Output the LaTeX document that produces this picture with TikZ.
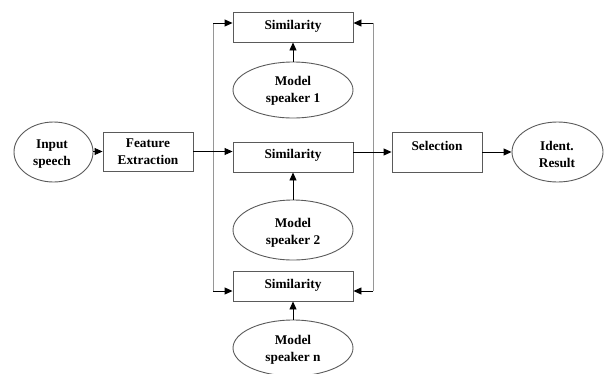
\documentclass[tikz,border=0pt]{standalone}
\usepackage{fontspec}
\setmainfont{Liberation Serif}
\usetikzlibrary{shapes.geometric,arrows.meta}
\definecolor{boxline}{RGB}{90,90,90}
\definecolor{busline}{RGB}{150,150,150}
\tikzset{
  box/.style={draw=boxline,line width=0.9pt,fill=white,rectangle,inner sep=0pt,align=center},
  oval/.style={draw=boxline,line width=0.9pt,fill=white,ellipse,inner sep=0pt,align=center},
  txt/.style={font=\fontsize{13.3}{17}\selectfont\bfseries,align=center,inner sep=0pt},
  arr/.style={line width=0.9pt,-{Triangle[length=8pt,width=7pt]}},
  bus/.style={draw=busline,line width=0.9pt}
}
\begin{document}
\begin{tikzpicture}[x=1pt,y=-1pt]
\useasboundingbox (0,0) rectangle (604,373);
% nodes
\node[oval,minimum width=79pt,minimum height=60pt] (in) at (53.5,152) {};
\node[txt] (intxt) at (52,154) {Input\\speech};
\node[box,minimum width=90pt,minimum height=39pt] (fe) at (148,151.5) {};
\node[txt] (fetxt) at (148,151.5) {Feature\\Extraction};
\node[box,minimum width=120pt,minimum height=30pt] (s1) at (293,27) {};
\node[txt] (s1t) at (293,26) {Similarity};
\node[oval,minimum width=120pt,minimum height=56pt] (m1) at (293,90) {};
\node[txt] (m1t) at (293,91) {Model\\speaker 1};
\node[box,minimum width=120pt,minimum height=30pt] (s2) at (293,157) {};
\node[txt] (s2t) at (293,155) {Similarity};
\node[oval,minimum width=120pt,minimum height=60pt] (m2) at (293,230) {};
\node[txt] (m2t) at (293,233) {Model\\speaker 2};
\node[box,minimum width=120pt,minimum height=30pt] (s3) at (293,286) {};
\node[txt] (s3t) at (293,285) {Similarity};
\node[oval,minimum width=120pt,minimum height=56pt] (mn) at (293,348) {};
\node[txt] (mnt) at (293,350) {Model\\speaker n};
\node[box,minimum width=90pt,minimum height=40pt] (sel) at (437,152) {};
\node[txt] (selt) at (437,146) {Selection};
\node[oval,minimum width=91pt,minimum height=60pt] (id) at (557.5,152) {};
\node[txt] (idt) at (557,154) {Ident.\\Result};
% bus coordinates
\coordinate (lt) at (213,23);
\coordinate (lb) at (213,291);
\coordinate (rt) at (373,23);
\coordinate (rb) at (373,291);
% buses
\draw[bus] (lt) -- (lb);
\draw[bus] (rt) -- (rb);
% arrows
\draw[arr] (in.east |- fe.east) -- (fe.west);
\draw[arr] (fe.east) -- (fe.east -| s2.west);
\draw[arr] (lt) -- (lt -| s1.west);
\draw[arr] (rt) -- (rt -| s1.east);
\draw[arr] (lb) -- (lb -| s3.west);
\draw[arr] (rb) -- (rb -| s3.east);
\draw[arr] (m1.north) -- (s1.south);
\draw[arr] (m2.north) -- (s2.south);
\draw[arr] (mn.north) -- (s3.south);
\draw[arr] (s2.east |- sel.west) -- (sel.west);
\draw[arr] (sel.east) -- (id.west);
\end{tikzpicture}
\end{document}
